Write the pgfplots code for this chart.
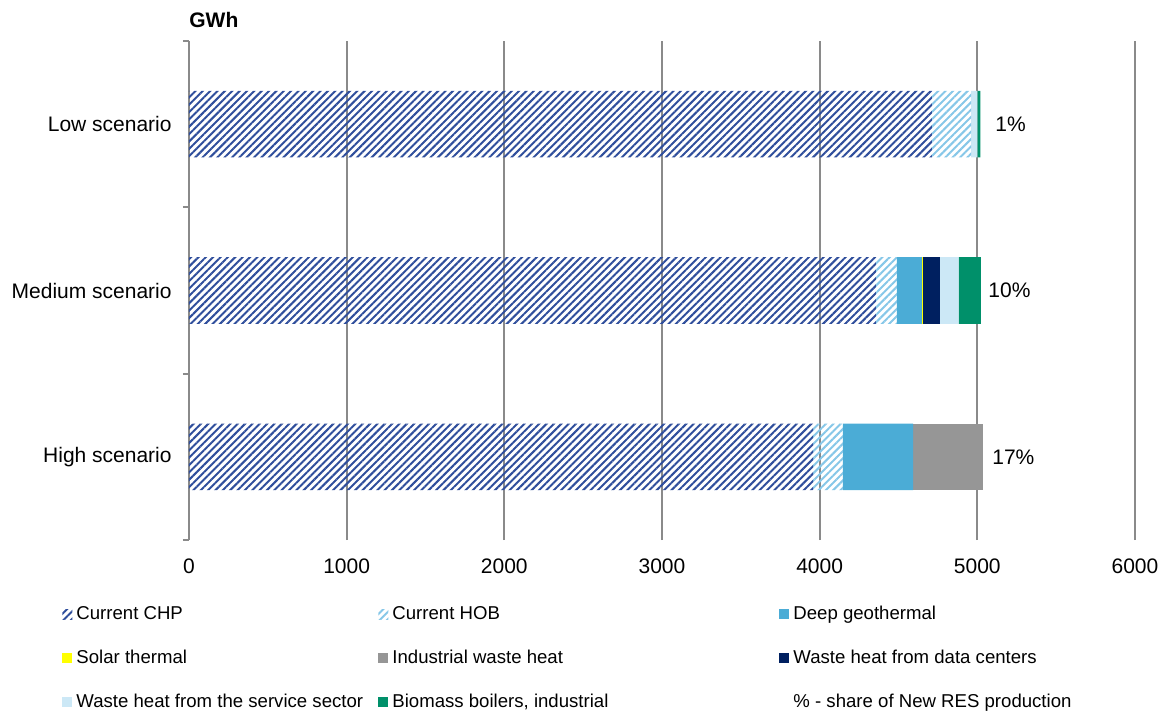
\documentclass[border=0pt]{standalone}
\usepackage{pgfplots}
\pgfplotsset{compat=1.18}
\usepackage{fontspec}
\setmainfont{Liberation Sans}
\usetikzlibrary{patterns.meta}

\definecolor{chp}{HTML}{2F4E9C}
\definecolor{hob}{HTML}{86C7E8}
\definecolor{geo}{HTML}{4BACD6}
\definecolor{solar}{HTML}{FFFF00}
\definecolor{indw}{HTML}{969696}
\definecolor{datac}{HTML}{002060}
\definecolor{serv}{HTML}{CCE8F6}
\definecolor{bio}{HTML}{00906A}
\definecolor{gridc}{HTML}{8A8A8A}

% rows: 0 = High, 1 = Medium, 2 = Low
\pgfplotstableread{
y   chp   hob  geo  solar  ind  dc   serv  bio
0   3958  190  444  0      444  0    0     0
1   4357  133  159  5      0    108  120   140
2   4712  248  0    0      0    0    40    20
}\scen

\begin{document}
\fontsize{10.5}{12.5}\selectfont
\begin{tikzpicture}
\path[use as bounding box] (-94.5pt,-86.5pt) rectangle (490pt,270pt);
\begin{axis}[
    name=ax,
    at={(0,0)}, anchor=south west,
    scale only axis,
    width=473pt, height=249.5pt,
    xbar stacked,
    bar width=0.4,
    xmin=0, xmax=6000,
    ymin=-0.5, ymax=2.5,
    xtick={0,1000,...,6000},
    /pgf/number format/.cd, set thousands separator={}, assume math mode=true,
    /pgfplots/.cd,
    xmajorgrids,
    grid style={gridc, line width=0.9pt},
    axis lines*=left,
    x axis line style={draw=none},
    y axis line style={gridc, line width=0.9pt},
    x tick style={draw=none},
    y tick style={gridc, line width=0.9pt},
    tick align=outside,
    major tick length=3pt,
    ytick={-0.5,0.5,1.5,2.5},
    yticklabels={},
    extra y ticks={0,1,2},
    extra y tick labels={High scenario, Medium scenario, Low scenario},
    extra y tick style={major tick length=0pt},
    yticklabel style={inner sep=0pt},
    yticklabel shift=8.5pt,
    xticklabel style={inner sep=0pt},
    xticklabel shift=6pt,
    tick label style={font=\fontsize{10.5}{12.5}\selectfont},
    legend columns=3,
    legend cell align=left,
    legend image code/.code={\draw[#1,draw=none] (0pt,-2.5pt) rectangle (5pt,2.5pt);},
    legend style={
        at={(axis description cs:-0.1342,-0.1303)}, anchor=north west,
        draw=none, fill=none, inner sep=0pt,
        font=\fontsize{9.3}{11}\selectfont,
        nodes={inner sep=0pt, text height=7pt, text depth=2pt},
        column sep=0pt, row sep=13pt,
        /tikz/every odd column/.append style={column sep=2pt},
    },
]
\addplot[draw=none, pattern={Lines[angle=45, distance=2.6pt, line width=1pt]}, pattern color=chp]
    table[x=chp, y=y] {\scen};
\addlegendentry{\makebox[151pt][l]{Current CHP}}
\addplot[draw=none, pattern={Lines[angle=45, distance=2.6pt, line width=1pt]}, pattern color=hob]
    table[x=hob, y=y] {\scen};
\addlegendentry{\makebox[193.5pt][l]{Current HOB}}
\addplot[draw=none, fill=geo] table[x=geo, y=y] {\scen};
\addlegendentry{Deep geothermal}
\addplot[draw=none, fill=solar] table[x=solar, y=y] {\scen};
\addlegendentry{Solar thermal}
\addplot[draw=none, fill=indw] table[x=ind, y=y] {\scen};
\addlegendentry{Industrial waste heat}
\addplot[draw=none, fill=datac] table[x=dc, y=y] {\scen};
\addlegendentry{Waste heat from data centers}
\addplot[draw=none, fill=serv] table[x=serv, y=y] {\scen};
\addlegendentry{Waste heat from the service sector}
\addplot[draw=none, fill=bio] table[x=bio, y=y] {\scen};
\addlegendentry{Biomass boilers, industrial}
\addlegendimage{empty legend}
\addlegendentry{\% - share of New RES production}

\node[anchor=west, inner sep=0pt] at (axis cs:5093,0) {17\%};
\node[anchor=west, inner sep=0pt] at (axis cs:5068,1) {10\%};
\node[anchor=west, inner sep=0pt] at (axis cs:5112,2) {1\%};
\end{axis}
\node[anchor=base west, inner sep=0pt, font=\bfseries\fontsize{10.5}{12.5}\selectfont]
    at ([yshift=6.5pt]ax.north west) {GWh};
\end{tikzpicture}
\end{document}
